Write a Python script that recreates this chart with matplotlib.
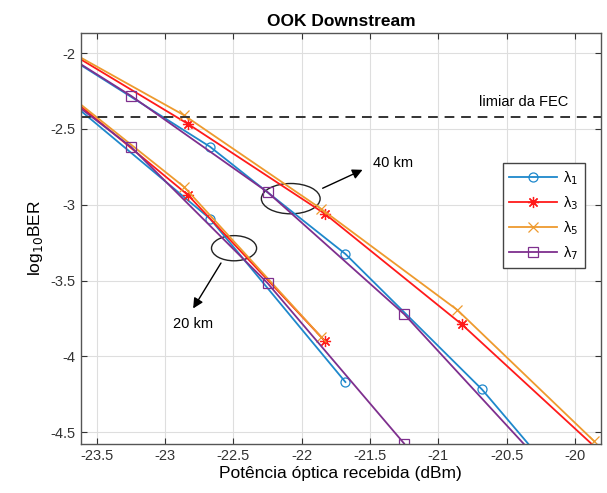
import matplotlib.pyplot as plt
from matplotlib.patches import Ellipse

plt.rcParams['font.family'] = ['Liberation Sans', 'DejaVu Sans']

# ---- data ----
# 40 km curves
x1_40 = [-23.67, -22.67, -21.68, -20.68, -19.68]
y1_40 = [-2.048, -2.618, -3.325, -4.219, -5.28]
x3_40 = [-23.83, -22.83, -21.83, -20.83, -19.83]
y3_40 = [-1.925, -2.468, -3.06, -3.788, -4.618]
x5_40 = [-23.86, -22.86, -21.86, -20.86, -19.86]
y5_40 = [-1.907, -2.41, -3.026, -3.695, -4.56]
x7_40 = [-24.25, -23.25, -22.25, -21.25, -20.25]
y7_40 = [-1.714, -2.281, -2.917, -3.722, -4.70]

# 20 km curves
x1_20 = [-23.67, -22.67, -21.68]
y1_20 = [-2.34, -3.093, -4.17]
x3_20 = [-23.83, -22.83, -21.83]
y3_20 = [-2.192, -2.938, -3.899]
x5_20 = [-23.86, -22.86, -21.86]
y5_20 = [-2.164, -2.883, -3.87]
x7_20 = [-24.25, -23.25, -22.25, -21.25]
y7_20 = [-1.927, -2.618, -3.517, -4.576]

FEC = -2.42
labels = ['λ$_1$', 'λ$_3$', 'λ$_5$', 'λ$_7$']
colors = ['#1E88CC', '#FF1A1A', '#EE9A2E', '#7E2F8E']
markers = ['o', (8, 2, 0), 'x', 's']
msizes = [6.5, 8, 6.5, 6.5]

fig = plt.figure(figsize=(6.07, 4.93), dpi=100)
ax = fig.add_axes([0.133, 0.099, 0.857, 0.835])

series = [
    (x1_40, y1_40, x1_20, y1_20),
    (x3_40, y3_40, x3_20, y3_20),
    (x5_40, y5_40, x5_20, y5_20),
    (x7_40, y7_40, x7_20, y7_20),
]
for (xa, ya, xb, yb), lab, c, m, ms in zip(series, labels, colors, markers, msizes):
    kw = dict(color=c, marker=m, markersize=ms, markerfacecolor='none',
              markeredgecolor=c, markeredgewidth=0.9, linewidth=1.3)
    ax.plot(xa, ya, label=lab, **kw)
    ax.plot(xb, yb, **kw)

ax.axhline(FEC, color='#333333', linestyle=(0, (5, 3.5)), linewidth=1.4)
ax.text(-20.05, -2.32, 'limiar da FEC', fontsize=10.5, ha='right', va='center')

# annotations
ax.add_patch(Ellipse((-22.08, -2.96), 0.43, 0.2, fill=False, color='#222222', lw=1))
ax.add_patch(Ellipse((-22.495, -3.287), 0.33, 0.166, fill=False, color='#222222', lw=1))
ax.annotate('', xy=(-21.536, -2.762), xytext=(-21.865, -2.899),
            arrowprops=dict(arrowstyle='-|>', color='black', lw=1, mutation_scale=15))
ax.text(-21.48, -2.726, '40 km', fontsize=10.5, ha='left', va='center')
ax.annotate('', xy=(-22.805, -3.70), xytext=(-22.58, -3.369),
            arrowprops=dict(arrowstyle='-|>', color='black', lw=1, mutation_scale=15))
ax.text(-22.795, -3.784, '20 km', fontsize=10.5, ha='center', va='center')

ax.set_xlim(-23.617, -19.81)
ax.set_ylim(-4.58, -1.864)
ax.set_xticks([-23.5, -23, -22.5, -22, -21.5, -21, -20.5, -20])
ax.set_xticklabels(['-23.5', '-23', '-22.5', '-22', '-21.5', '-21', '-20.5', '-20'])
ax.set_yticks([-4.5, -4, -3.5, -3, -2.5, -2])
ax.set_yticklabels(['-4.5', '-4', '-3.5', '-3', '-2.5', '-2'])
ax.grid(True, color='#DEDEDE', linewidth=0.8)
ax.set_axisbelow(True)
ax.tick_params(direction='in', top=True, right=True, labelsize=10.5,
               colors='#333333', length=4)
for s in ax.spines.values():
    s.set_color('#555555')
    s.set_linewidth(1)

ax.set_xlabel('Potência óptica recebida (dBm)', fontsize=12.5, labelpad=2)
ax.set_ylabel(r'log$_{10}$BER', fontsize=12.5, labelpad=4)
ax.set_title('OOK Downstream', fontsize=12.5, fontweight='bold', pad=5)

leg = ax.legend(loc='upper right', bbox_to_anchor=(0.969, 0.684), fontsize=10.5,
                fancybox=False, framealpha=1, edgecolor='#444444',
                handlelength=3.3, borderpad=0.45, labelspacing=0.5,
                borderaxespad=0, handletextpad=0.4)
leg.get_frame().set_linewidth(1)

fig.savefig('out.png', dpi=100)
